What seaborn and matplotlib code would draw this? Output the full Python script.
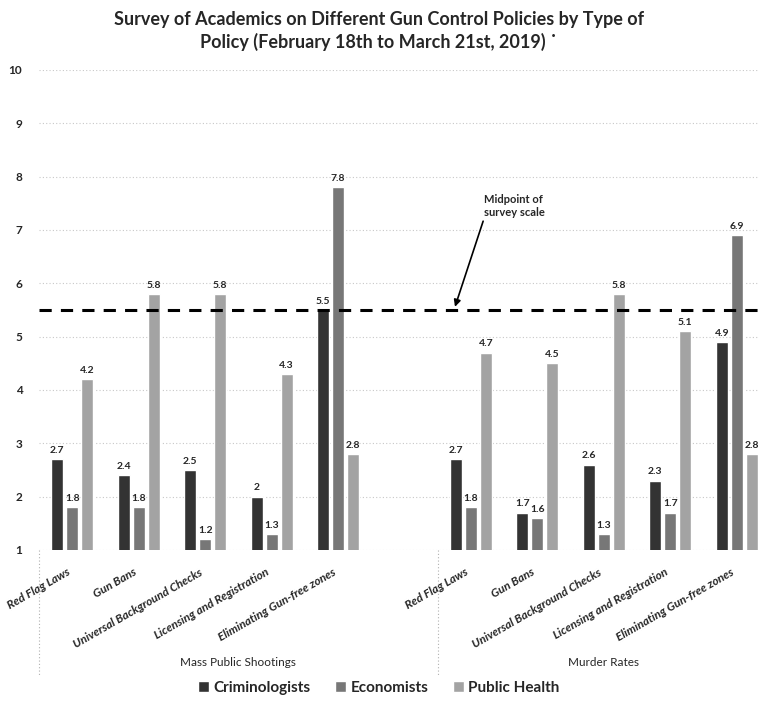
import matplotlib
matplotlib.use("Agg")
import matplotlib.pyplot as plt
import matplotlib.transforms as mtransforms
import seaborn as sns
import pandas as pd
import numpy as np

# ---- data ----
groups = ["Mass Public Shootings", "Murder Rates"]
policies = ["Red Flag Laws", "Gun Bans", "Universal Background Checks",
            "Licensing and Registration", "Eliminating Gun-free zones"]
series = ["Criminologists", "Economists", "Public Health"]
mass_crim = [2.7, 2.4, 2.5, 2.0, 5.5]
mass_econ = [1.8, 1.8, 1.2, 1.3, 7.8]
mass_ph = [4.2, 5.8, 5.8, 4.3, 2.8]
murder_crim = [2.7, 1.7, 2.6, 2.3, 4.9]
murder_econ = [1.8, 1.6, 1.3, 1.7, 6.9]
murder_ph = [4.7, 4.5, 5.8, 5.1, 2.8]
midpoint = 5.5
title = "Survey of Academics on Different Gun Control Policies by Type of\nPolicy (February 18th to March 21st, 2019) ˙"
colors = ["#333333", "#777777", "#a3a3a3"]

rows = []
for g, vals in zip(groups, [(mass_crim, mass_econ, mass_ph),
                            (murder_crim, murder_econ, murder_ph)]):
    for s, arr in zip(series, vals):
        for p, v in zip(policies, arr):
            rows.append({"key": g + "|" + p, "series": s, "value": v})
df = pd.DataFrame(rows)
order = [groups[0] + "|" + p for p in policies] + ["__gap__"] + [groups[1] + "|" + p for p in policies]
tick_labels = policies + [""] + policies

sns.set_theme(style="white")
plt.rcParams['font.family'] = ['Lato', 'DejaVu Sans']

fig = plt.figure(figsize=(7.58, 7.10), dpi=100)
ax = fig.add_axes([39/758, 1 - 550/710, 1 - 39/758, (550 - 70)/710])

sns.barplot(data=df, x="key", y="value", hue="series", order=order,
            hue_order=series, palette=colors, width=0.675, gap=0.2,
            ax=ax, legend=True, saturation=1)

ax.set_ylim(1, 10)
ax.set_xlim(-0.5, 10.32)
ax.set_yticks(range(1, 11))
ax.set_yticklabels([str(i) for i in range(1, 11)], fontsize=8.5, fontweight="bold")
ax.tick_params(axis="y", length=0, pad=12)
ax.tick_params(axis="x", length=0, pad=12)
ax.set_xticks(range(len(order)))
ax.set_xticklabels(tick_labels, rotation=30, ha="right", rotation_mode="anchor",
                   fontsize=8.5, fontstyle="italic", fontweight="bold")
shift = mtransforms.ScaledTranslation(-6/100, 0, fig.dpi_scale_trans)
for lab in ax.get_xticklabels():
    lab.set_transform(lab.get_transform() + shift)
ax.set_xlabel("")
ax.set_ylabel("")
for sp in ax.spines.values():
    sp.set_visible(False)
ax.yaxis.grid(True, linestyle=(0, (1, 2)), color="#c8c8c8", linewidth=0.8)
ax.set_axisbelow(True)

# value labels
for cont in ax.containers:
    ax.bar_label(cont, labels=[("%g" % v) for v in cont.datavalues],
                 fontsize=7.5, fontweight="bold", padding=3)

# midpoint line
ax.axhline(midpoint, color="black", linestyle=(0, (4, 3)), linewidth=2.2, zorder=5)
ax.annotate("Midpoint of\nsurvey scale", xy=(5.76, 5.56), xytext=(6.2, 7.45),
            fontsize=8, fontweight="bold", va="center", ha="left",
            arrowprops=dict(arrowstyle="-|>", color="black", lw=1.2,
                            shrinkA=0, shrinkB=0, mutation_scale=10,
                            relpos=(0.0, 0.0)))

# group dividers and labels
trans = mtransforms.blended_transform_factory(ax.transData, ax.transAxes)
for xd in [-0.5, 5.5]:
    ax.plot([xd, xd], [0, -0.26], transform=trans, clip_on=False,
            color="#b0b0b0", linestyle=(0, (1, 2)), linewidth=0.8)
ax.text(2.5, -0.235, groups[0], transform=trans, ha="center", va="center",
        fontsize=8.5)
ax.text(8.0, -0.235, groups[1], transform=trans, ha="center", va="center",
        fontsize=8.5)

# legend
handles, labels = ax.get_legend_handles_labels()
ax.get_legend().remove()
fig.legend(handles, labels, loc="center", bbox_to_anchor=(0.5, 1 - 688/710),
           ncol=3, frameon=False, handlelength=0.7, handleheight=0.7,
           handletextpad=0.3, columnspacing=1.6,
           prop={"size": 11, "weight": "bold"})

fig.suptitle(title, x=0.5, y=0.985, fontsize=13, fontweight="bold", va="top",
             linespacing=1.35)

fig.savefig("out.png", dpi=100)
